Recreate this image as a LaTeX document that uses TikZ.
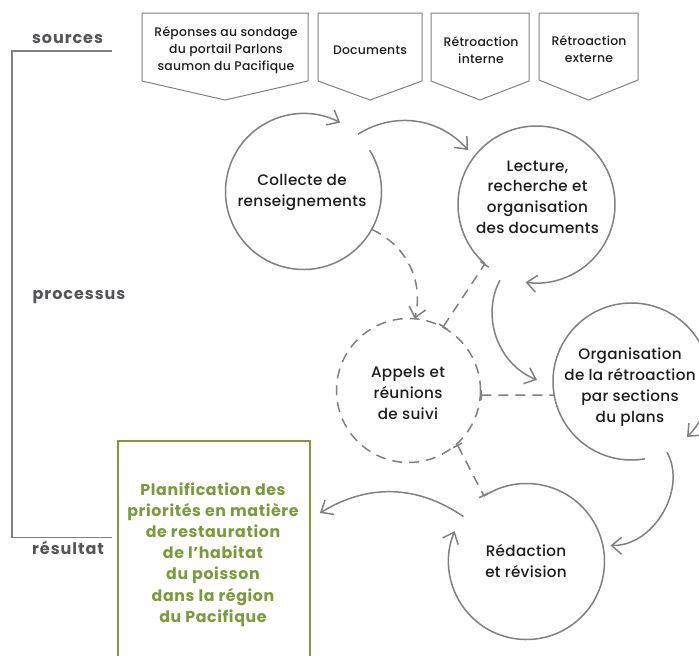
\documentclass[tikz,border=0pt]{standalone}
\usepackage{fontspec}
\setmainfont{Poppins}
\newfontfamily\bodyfont{Poppins}[UprightFont={* Medium}, BoldFont={* Bold}, LetterSpace=2]
\newfontfamily\greenfont{Poppins}[UprightFont={* Bold}, LetterSpace=4]
\newfontfamily\labfont{Poppins}[UprightFont={* Bold}, LetterSpace=6]
\usetikzlibrary{arrows.meta,calc}
\definecolor{lg}{RGB}{128,128,131}
\definecolor{txt}{RGB}{28,28,28}
\definecolor{labc}{RGB}{85,85,89}
\definecolor{grn}{RGB}{122,154,60}
\begin{document}
\begin{tikzpicture}[x=1pt,y=-1pt,
  >={Straight Barb[length=10pt,width=17pt]},
  cline/.style={draw=lg, line width=1.5pt},
  dline/.style={draw=lg, line width=1.5pt, dash pattern=on 10pt off 7pt},
  circ/.style={circle, inner sep=0pt, outer sep=0pt, minimum size=#1},
  ctext/.style={align=center, text=txt, font=\bodyfont\fontsize{15.2}{20.8}\selectfont},
  stext/.style={align=center, text=txt, font=\bodyfont\fontsize{12.4}{17}\selectfont},
  labtext/.style={text=labc, font=\labfont\fontsize{16}{17}\selectfont},
  gtext/.style={align=center, text=grn, font=\greenfont\fontsize{15.8}{21.2}\selectfont},
  srcbox/.style={draw=lg, line width=1pt},
  tbar/.style={{Bar[width=10pt]}-{Bar[width=10pt]}},
]
\useasboundingbox (0,0) rectangle (699,656);
\clip (0,0) rectangle (699,656);

% side labels and bracket
\node[labtext] (ls) at (67.5,39) {sources};
\node[labtext] (lp) at (79,297) {processus};
\node[labtext] (lr) at (68,548) {résultat};
\draw[draw=lg, line width=1.2pt] (112,51) -- (12,51) -- (12,537.5) -- (112,537.5);

% source boxes
\draw[srcbox] (142,13) -- (308,13) -- (308,81) -- (225,100) -- (142,81) -- cycle;
\draw[srcbox] (318,13) -- (422,13) -- (422,81) -- (370,100) -- (318,81) -- cycle;
\draw[srcbox] (431,13) -- (529,13) -- (529,81) -- (480,100) -- (431,81) -- cycle;
\draw[srcbox] (539,13) -- (638,13) -- (638,80) -- (588.5,100) -- (539,80) -- cycle;
\node[stext] (s1) at (226,50) {Réponses au sondage\\du portail Parlons\\saumon du Pacifique};
\node[stext] (s2) at (370,50) {Documents};
\node[stext] (s3) at (481,50.5) {Rétroaction\\interne};
\node[stext] (s4) at (589,49.5) {Rétroaction\\externe};

% circles
\node[circ=156pt] (c1) at (303.5,191.5) {};
\node[circ=157pt] (c2) at (536.5,204.5) {};
\node[circ=144pt, dline] (c3) at (408.5,390.5) {};
\node[circ=157pt] (c4) at (631.5,381.5) {};
\node[circ=156pt] (c5) at (526.5,561.5) {};

\node[ctext] (t1) at (302,192.5) {Collecte de\\renseignements};
\node[ctext] (t2) at (537.5,197) {Lecture,\\recherche et\\organisation\\des documents};
\node[ctext] (t3) at (408,393) {Appels et\\réunions\\de suivi};
\node[ctext] (t4) at (630,387) {Organisation\\de la rétroaction\\par sections\\du plans};
\node[ctext] (t5) at (526,561) {Rédaction\\et révision};

% cycle arcs
\draw[cline,->] ($(c1)+(32:78pt)$) arc[start angle=32, end angle=-298, radius=78pt];
\draw[cline,->] ($(c2)+(-131:78.5pt)$) arc[start angle=-131, end angle=-458, radius=78.5pt];
\draw[cline,->] ($(c4)+(-80:78.5pt)$) arc[start angle=-80, end angle=-405, radius=78.5pt];
\draw[cline,->] ($(c5)+(123:78pt)$) arc[start angle=123, end angle=-203, radius=78pt];

% green result box
\node[draw=grn, line width=2pt, minimum width=192pt, minimum height=240pt, anchor=north west, inner sep=0pt] (g) at (117,440) {};
\node[gtext] (gt) at (213,554.5) {Planification des\\priorités en matière\\de restauration\\de l’habitat\\du poisson\\dans la région\\du Pacifique};
\coordinate (gin) at ($(g.north east)+(9,73)$);

% connectors between circles
\draw[cline,->] ($(c1)+(46.5:79pt)$) to[bend left=40] ($(c2)+(141.5:87.5pt)$);
\draw[cline,->] ($(c2)+(-115.8:84pt)$) to[bend right=48] ($(c4)+(179:94.5pt)$);
\draw[cline,->] ($(c4)+(-63.3:79pt)$) to[bend left=60] ($(c5)+(10.8:85.5pt)$);
\draw[cline,->] ($(c5)+(144.5:77.5pt)$) to[bend right=33] (gin);

% dashed links with the follow-up circle
\draw[dline,->] ($(c1)+(-29:78.5pt)$) to[bend left=39] ($(c3)+(85:72pt)$);
\draw[dline,tbar] ($(c3)+(61.5:72pt)$) -- ($(c2)+(-131:78.5pt)$);
\draw[dline,{Bar[width=10pt]}-] ($(c3)+(-3.6:72pt)$) -- ($(c4)+(189.9:78.5pt)$);
\draw[dline,tbar] ($(c3)+(-48:73pt)$) -- ($(c5)+(123:78pt)$);
\end{tikzpicture}
\end{document}
